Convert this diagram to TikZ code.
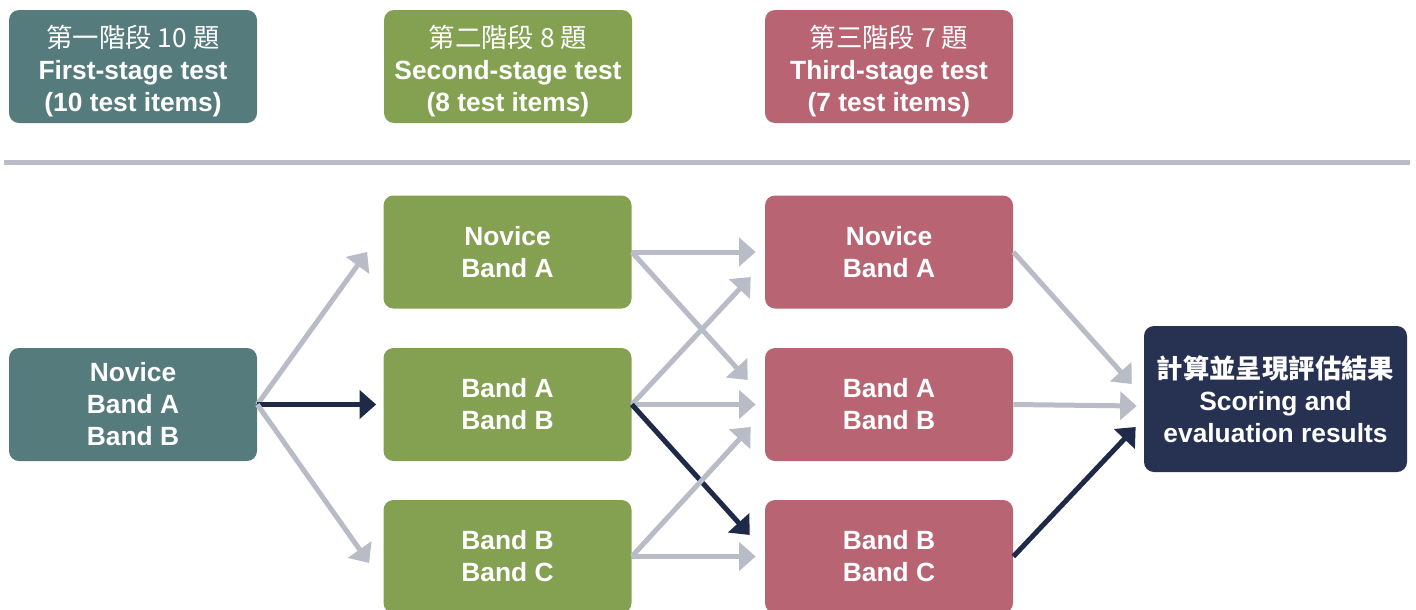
\documentclass[tikz,border=0pt]{standalone}
\usepackage{fontspec}
\setmainfont{Liberation Sans}
\newfontfamily\cjkfont{Noto Sans CJK TC}
\newfontfamily\cjkbold{Noto Sans CJK TC Bold}
\usetikzlibrary{positioning,arrows.meta,calc}
\definecolor{stageone}{HTML}{567B7D}
\definecolor{stagetwo}{HTML}{84A152}
\definecolor{stagethree}{HTML}{B86473}
\definecolor{resultblue}{HTML}{273151}
\definecolor{linkgray}{HTML}{B8BCC7}
\definecolor{linkdark}{HTML}{1F2A48}
\newcommand{\headline}[1]{\rule{0pt}{18pt}{\cjkfont\mdseries #1}}
\tikzset{
    box/.style = {
        shape=rectangle,
        rounded corners=0.2cm,
        minimum height=2.26cm,
        minimum width=4.96cm,
        text=white,
        align=center,
        font=\bfseries\fontsize{15}{18.2}\selectfont
    },
    first/.style = {
        box,
        fill=stageone
    },
    second/.style = {
        box,
        fill=stagetwo
    },
    third/.style = {
        box,
        fill=stagethree
    },
    result/.style = {
        box,
        fill=resultblue,
        minimum height=2.92cm,
        minimum width=5.26cm
    },
    link/.style = {
        ->,
        line width=0.1cm,
        linkgray
    },
    path/.style = {
        ->,
        line width=0.1cm,
        linkdark
    },
    >={Triangle[length=0.33cm,width=0.56cm]},
}

\begin{document}
\begin{tikzpicture}
            \useasboundingbox (0,0) rectangle (28.32,-12.18);

            \node[first] (headone) at (2.66,-1.33) {\headline{第一階段 10 題}\\First-stage test\\(10 test items)};
            \node[second] (headtwo) at (10.16,-1.33) {\headline{第二階段 8 題}\\Second-stage test\\(8 test items)};
            \node[third] (headthree) at (17.78,-1.33) {\headline{第三階段 7 題}\\Third-stage test\\(7 test items)};

            \draw[line width=0.1cm, linkgray] (0.08,-3.24) -- (28.2,-3.24);

            \node[first] (start) at (2.66,-8.09) {Novice\\Band A\\Band B};

            \node[second] (twoa) at (10.15,-5.04) {Novice\\Band A};
            \node[second] (twob) at (10.15,-8.09) {Band A\\Band B};
            \node[second] (twoc) at (10.15,-11.13) {Band B\\Band C};

            \node[third] (threea) at (17.78,-5.04) {Novice\\Band A};
            \node[third] (threeb) at (17.78,-8.09) {Band A\\Band B};
            \node[third] (threec) at (17.78,-11.13) {Band B\\Band C};

            \node[result] (score) at (25.51,-7.98) {{\cjkbold 計算並呈現評估結果}\\Scoring and\\evaluation results};

            \path[draw, link] (start.east) -- ($(twoa.west)+(-0.32,0)$);
            \path[draw, path] (start.east) -- ($(twob.west)+(-0.14,0)$);
            \path[draw, link] (start.east) -- ($(twoc.west)+(-0.28,-0.13)$);

            \path[draw, link] (twoa.east) -- ($(threea.west)+(-0.18,0)$);
            \path[draw, link] (twoa.east) -- ($(threeb.west)+(-0.34,0.49)$);
            \path[draw, link] (twob.east) -- ($(threea.west)+(-0.28,-0.5)$);
            \path[draw, link] (twob.east) -- ($(threeb.west)+(-0.18,0)$);
            \path[draw, path] (twob.east) -- ($(threec.west)+(-0.3,0.43)$);
            \path[draw, link] (twoc.east) -- ($(threeb.west)+(-0.28,-0.45)$);
            \path[draw, link] (twoc.east) -- ($(threec.west)+(-0.18,0)$);

            \path[draw, link] (threea.east) -- ($(score.west)+(-0.24,0.3)$);
            \path[draw, link] (threeb.east) -- ($(score.west)+(-0.14,-0.14)$);
            \path[draw, path] (threec.east) -- ($(score.west)+(-0.16,-0.56)$);

        \end{tikzpicture}
\end{document}
